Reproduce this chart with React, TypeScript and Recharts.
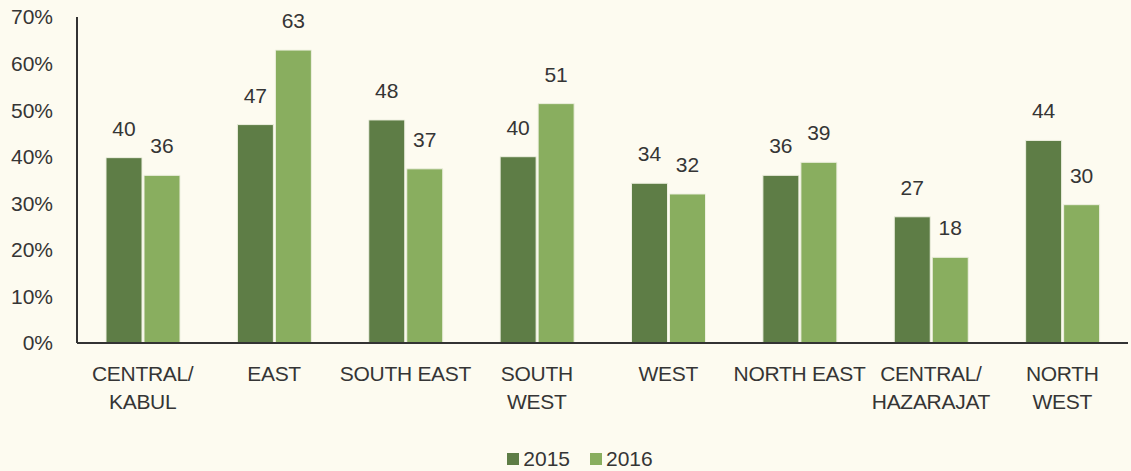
import { BarChart, Bar, XAxis, YAxis, Legend, LabelList } from 'recharts';

const regions = ['CENTRAL/\nKABUL', 'EAST', 'SOUTH EAST', 'SOUTH\nWEST', 'WEST', 'NORTH EAST', 'CENTRAL/\nHAZARAJAT', 'NORTH\nWEST'];
const values2015 = [39.8, 46.9, 47.9, 40.0, 34.3, 36.0, 27.1, 43.5];
const values2016 = [36.0, 62.9, 37.4, 51.4, 32.0, 38.8, 18.4, 29.7];
const labels2015 = ['40', '47', '48', '40', '34', '36', '27', '44'];
const labels2016 = ['36', '63', '37', '51', '32', '39', '18', '30'];
const yTicks = [0, 10, 20, 30, 40, 50, 60, 70];

const data = regions.map((r, i) => ({ region: r, y2015: values2015[i], y2016: values2016[i] }));

const DARK = '#5e7d46';
const LIGHT = '#89ae5f';
const TEXT = '#353535';
const FONT = '"Liberation Sans", Arial, sans-serif';
const FS = 21;

const CategoryTick = (props: any) => {
  const { x, y, payload } = props;
  const lines = String(payload.value).split('\n');
  return (
    <text x={x} y={y} textAnchor="middle" fill={TEXT} fontSize={FS} fontFamily={FONT} letterSpacing={-0.3}>
      {lines.map((l, i) => (
        <tspan key={i} x={x} dy={i === 0 ? 36 : 28}>{l}</tspan>
      ))}
    </text>
  );
};

const makeLabel = (labels: string[]) => (props: any) => {
  const { x, y, width, index } = props;
  return (
    <text x={x + width / 2} y={y - 22} textAnchor="middle" fill={TEXT} fontSize={FS} fontFamily={FONT}>
      {labels[index]}
    </text>
  );
};

const LegendContent = () => (
  <div style={{ display: 'flex', justifyContent: 'center', paddingTop: 12, fontFamily: FONT, fontSize: FS, color: TEXT }}>
    <span style={{ display: 'flex', alignItems: 'center', marginRight: 20 }}>
      <span style={{ width: 12, height: 12, background: DARK, marginRight: 4 }} />2015
    </span>
    <span style={{ display: 'flex', alignItems: 'center' }}>
      <span style={{ width: 12, height: 12, background: LIGHT, marginRight: 4 }} />2016
    </span>
  </div>
);

export default function App() {
  return (
    <div style={{ position: 'absolute', left: 0, top: 0, width: 1131, height: 471, background: '#fdfbf0' }}>
      <BarChart
        width={1131}
        height={471}
        data={data}
        margin={{ top: 17, right: 3, left: 0, bottom: 0 }}
        barGap={2}
        barSize={36}
      >
        <YAxis
          width={77}
          domain={[0, 70]}
          ticks={yTicks}
          interval={0}
          tickFormatter={(v: number) => `${v}%`}
          axisLine={{ stroke: '#333', strokeWidth: 2 }}
          tickLine={false}
          tickSize={0}
          tickMargin={24}
          tick={{ fill: TEXT, fontSize: FS, fontFamily: FONT }}
        />
        <XAxis
          dataKey="region"
          interval={0}
          height={92}
          axisLine={{ stroke: '#333', strokeWidth: 2 }}
          tickLine={false}
          tickSize={0}
          tick={<CategoryTick />}
        />
        <Legend verticalAlign="bottom" content={<LegendContent />} wrapperStyle={{ left: 0, width: 1160, height: 36 }} />
        <Bar dataKey="y2015" name="2015" fill={DARK} stroke="#eef0e0" strokeWidth={1} isAnimationActive={false}>
          <LabelList dataKey="y2015" content={makeLabel(labels2015)} />
        </Bar>
        <Bar dataKey="y2016" name="2016" fill={LIGHT} stroke="#eef0e0" strokeWidth={1} isAnimationActive={false}>
          <LabelList dataKey="y2016" content={makeLabel(labels2016)} />
        </Bar>
      </BarChart>
    </div>
  );
}
